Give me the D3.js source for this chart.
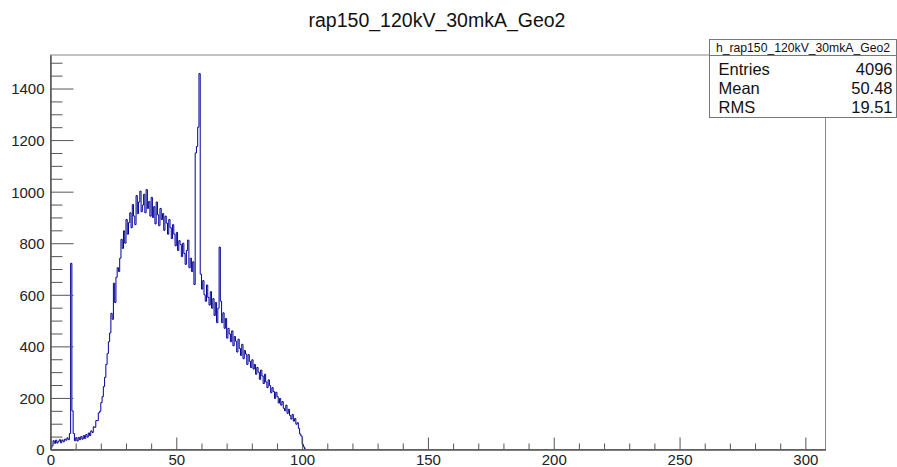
<!DOCTYPE html>
<html>
<head>
<meta charset="utf-8">
<script src="https://cdnjs.cloudflare.com/ajax/libs/d3/7.8.5/d3.min.js"></script>
<style>
  body { margin: 0; background: white; }
  text { font-family: "Liberation Sans", Arial, Helvetica, sans-serif; }
</style>
</head>
<body>
<div id="viz"></div>
<script>
// histogram contents, bin width 0.5 starting at 0 (everything after is empty)
var binWidth = 0.5;
var counts = [
  // 0 - 9.5
  5, 14, 34, 24, 36, 25, 32, 38, 26, 37, 30, 40, 36, 45, 38, 62, 722, 150, 62, 34,
  // 10 - 19.5
  46, 33, 47, 38, 50, 40, 54, 43, 58, 48, 64, 54, 72, 66, 88, 86, 112, 112, 142, 148,
  // 20 - 29.5
  182, 205, 244, 280, 330, 372, 418, 452, 528, 505, 645, 570, 668, 705, 690, 742, 815, 780, 848, 800,
  // 30 - 39.5
  892, 835, 880, 918, 860, 950, 905, 872, 985, 915, 960, 1002, 922, 948, 990, 918, 1008, 935, 962, 905,
  // 40 - 49.5
  978, 900, 942, 875, 960, 910, 868, 935, 892, 915, 850, 905, 878, 835, 892, 860, 818, 872, 835, 790,
  // 50 - 59.5
  842, 772, 810, 795, 748, 800, 760, 718, 772, 812, 705, 742, 690, 728, 640, 1150, 1175, 1250, 1458, 680,
  // 60 - 69.5
  622, 655, 600, 575, 638, 590, 560, 612, 548, 585, 520, 570, 492, 548, 785, 575, 492, 530, 470, 508,
  // 70 - 79.5
  432, 470, 448, 418, 460, 402, 438, 420, 378, 428, 392, 365, 408, 352, 384, 370, 330, 368, 342, 318,
  // 80 - 89.5
  348, 312, 330, 292, 318, 300, 272, 308, 285, 256, 292, 262, 240, 270, 248, 220, 240, 225, 198, 222,
  // 90 - 99.5
  205, 180, 198, 172, 186, 160, 150, 172, 140, 156, 132, 118, 136, 110, 120, 98, 104, 82, 60, 52,
  // 100 -
  20, 10, 2, 0
];

var xMax = 308, yMax = 1530;
var xMajor = [0, 50, 100, 150, 200, 250, 300];
var yMajor = [0, 200, 400, 600, 800, 1000, 1200, 1400];

var title = 'rap150_120kV_30mkA_Geo2';
var statsName = 'h_rap150_120kV_30mkA_Geo2';
var statsLabels = ['Entries', 'Mean', 'RMS'];
var statsValues = ['4096', '50.48', '19.51'];

var W = 897, H = 467;
var margin = {top: 55, right: 71.5, bottom: 17.5, left: 50.5},
    width = W - margin.left - margin.right,
    height = H - margin.top - margin.bottom;

var root = d3.select('#viz').append('svg')
    .attr('width', W)
    .attr('height', H);

var svg = root.append('g')
    .attr('transform', 'translate(' + margin.left + ',' + margin.top + ')');

var x = d3.scaleLinear().domain([0, xMax]).range([0, width]);
var y = d3.scaleLinear().domain([0, yMax]).range([height, 0]);

// minor tick values
var xMinor = d3.range(0, xMax, 10).filter(function(v) { return v % 50 != 0; });
var yMinor = d3.range(0, yMax, 50).filter(function(v) { return v % 200 != 0; });

// title
root.append('text')
    .attr('x', 437)
    .attr('y', 27)
    .attr('text-anchor', 'middle')
    .style('font-size', '19.5px')
    .attr('fill', '#111')
    .text(title);

// histogram as steps
var pts = counts.map(function(c, i) { return [i * binWidth, c]; });
pts.push([counts.length * binWidth, 0]);
pts.push([xMax, 0]);

var step = d3.line()
    .x(function(d) { return x(d[0]); })
    .y(function(d) { return y(d[1]); })
    .curve(d3.curveStepAfter);

svg.append('path')
    .datum(pts)
    .attr('d', step)
    .attr('fill', 'none')
    .attr('stroke', '#000099')
    .attr('stroke-width', 1);

// frame
svg.append('rect')
    .attr('x', 0).attr('y', 0)
    .attr('width', width).attr('height', height)
    .attr('fill', 'none')
    .attr('stroke', '#888')
    .attr('stroke-width', 1);

// X axis
var x_axis = svg.append('g')
    .attr('transform', 'translate(0,' + height + ')')
    .call(d3.axisBottom(x).tickValues(xMajor).tickSize(-12).tickSizeOuter(0).tickPadding(5));
svg.append('g')
    .attr('transform', 'translate(0,' + height + ')')
    .call(d3.axisBottom(x).tickValues(xMinor).tickSize(-6).tickSizeOuter(0).tickFormat(''));

// Y axis
var y_axis = svg.append('g')
    .call(d3.axisLeft(y).tickValues(yMajor).tickSize(-23).tickSizeOuter(0).tickPadding(6)
      .tickFormat(d3.format('d')));
svg.append('g')
    .call(d3.axisLeft(y).tickValues(yMinor).tickSize(-12).tickSizeOuter(0).tickFormat(''));

svg.selectAll('.domain').attr('stroke', '#555');
svg.selectAll('.tick line').attr('stroke', '#555');
svg.selectAll('.tick text')
    .style('font-size', '15px')
    .style('font-family', '"Liberation Sans", Arial, sans-serif')
    .attr('fill', '#222');
y_axis.selectAll('.tick text').attr('dy', '0.36em');

// stats box
var box = root.append('g').attr('transform', 'translate(709.5,39.5)');
var bw = 187, bh = 78;
box.append('rect')
    .attr('width', bw).attr('height', bh)
    .attr('fill', 'white')
    .attr('stroke', '#777');
box.append('line')
    .attr('x1', 0).attr('x2', bw)
    .attr('y1', 16).attr('y2', 16)
    .attr('stroke', '#777');
box.append('text')
    .attr('x', bw / 2).attr('y', 12.5)
    .attr('text-anchor', 'middle')
    .style('font-size', '12.2px')
    .attr('fill', '#111')
    .text(statsName);
for (var i = 0; i < statsLabels.length; i++) {
  box.append('text')
    .attr('x', 9).attr('y', 35.5 + i * 19)
    .style('font-size', '16.5px')
    .attr('fill', '#111')
    .text(statsLabels[i]);
  box.append('text')
    .attr('x', bw - 4).attr('y', 35.5 + i * 19)
    .attr('text-anchor', 'end')
    .style('font-size', '16.5px')
    .attr('fill', '#111')
    .text(statsValues[i]);
}
</script>
</body>
</html>
